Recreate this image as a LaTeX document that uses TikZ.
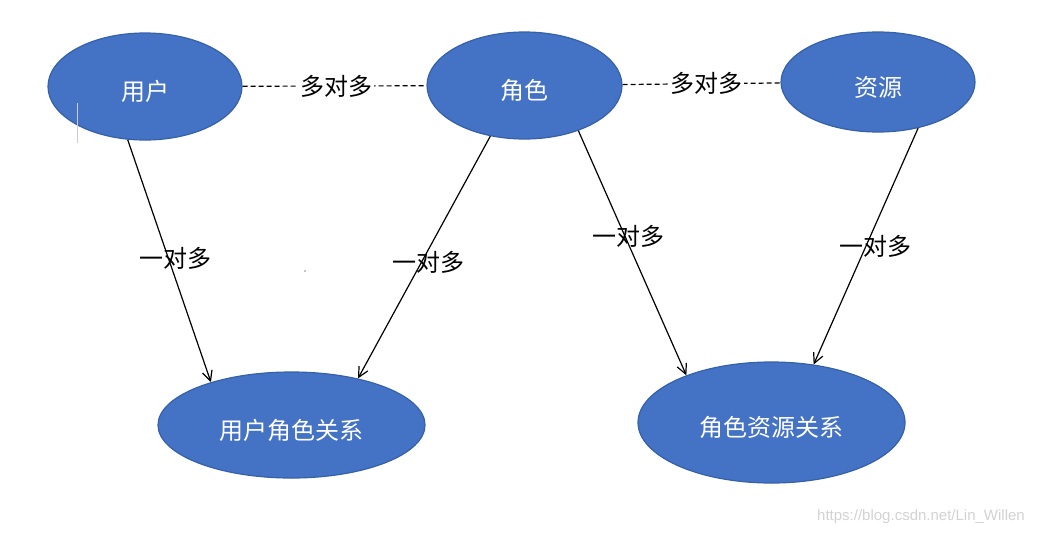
\documentclass[tikz,border=0pt]{standalone}
\usepackage{fontspec}
\newfontfamily\cjk{Noto Sans CJK SC}
\newfontfamily\wmfont{Liberation Sans}
\usetikzlibrary{shapes.geometric,arrows.meta}
\definecolor{entblue}{HTML}{4472C4}
\definecolor{entedge}{HTML}{3560AA}
\tikzset{
  entity/.style={ellipse, fill=entblue, draw=entedge, line width=0.6pt, text=white,
    font=\cjk\fontsize{12}{12}\selectfont, inner sep=0pt, text height=1.6em, text depth=0.2em},
  rel/.style={-{Straight Barb[length=5pt,width=5pt]}, line width=0.6pt},
  manymany/.style={dash pattern=on 2.5pt off 1.5pt, line width=0.6pt},
  lab/.style={font=\cjk\fontsize{12}{12}\selectfont, inner sep=1pt}
}
\begin{document}
\begin{tikzpicture}[x=0.5pt,y=-0.5pt]
\useasboundingbox (0,0) rectangle (1042,536);
\node[entity, minimum width=97pt, minimum height=53.5pt] (user) at (145,86.5) {用户};
\node[entity, minimum width=97.5pt, minimum height=53.5pt] (role) at (524.5,85.5) {角色};
\node[entity, minimum width=97pt, minimum height=50pt] (res) at (878,82) {资源};
\node[entity, minimum width=133.5pt, minimum height=53pt] (userrole) at (291.5,425) {用户角色关系};
\node[entity, minimum width=133.5pt, minimum height=60.5pt] (roleres) at (771.5,422.5) {角色资源关系};
\draw[manymany] (user) -- node[lab, fill=white, pos=0.51] {多对多} (role);
\draw[manymany] (role) -- node[lab, fill=white, pos=0.53] {多对多} (res);
\draw[rel] (user.-108) -- node[lab, pos=0.49, xshift=3.5pt] {一对多} (userrole.152);
\draw[rel] (role.-124) -- node[lab, pos=0.52, xshift=3.5pt] {一对多} (userrole.35);
\draw[rel] (role.-40) -- node[lab, pos=0.43, xshift=2pt] {一对多} (roleres.151);
\draw[rel] (res.-49) -- node[lab, pos=0.5, xshift=5pt] {一对多} (roleres.54);
\draw[gray!40, line width=0.5pt] (77,103) -- (77,143);
\fill (305,271) circle (0.7);
\node[text=gray!35, font=\wmfont\fontsize{7.5}{8}\selectfont] (mark) at (921,517) {https://blog.csdn.net/Lin\_Willen};
\end{tikzpicture}
\end{document}
